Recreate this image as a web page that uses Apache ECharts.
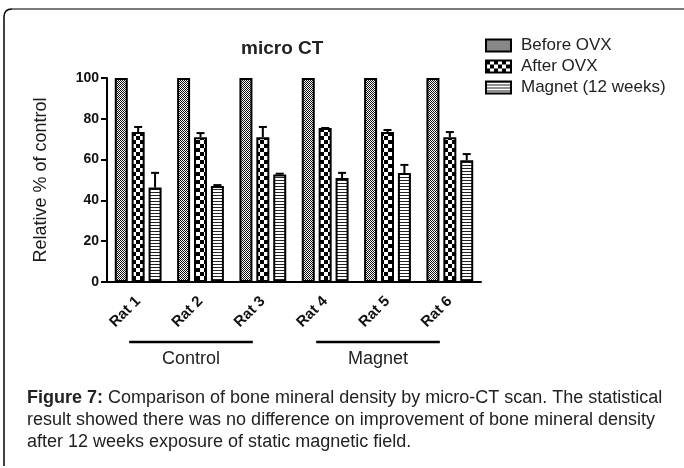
<!DOCTYPE html>
<html>
<head>
<meta charset="utf-8">
<script src="https://cdn.jsdelivr.net/npm/echarts@6/dist/echarts.min.js"></script>
<style>
  html, body { margin: 0; padding: 0; background: #fff; }
  #chart { width: 684px; height: 468px; }
</style>
</head>
<body>
<div id="chart"></div>
<script>
// data
var rats = ['Rat 1', 'Rat 2', 'Rat 3', 'Rat 4', 'Rat 5', 'Rat 6'];
var seriesNames = ['Before OVX', 'After OVX', 'Magnet (12 weeks)'];
var beforeOvx = [100, 100, 100, 100, 100, 100];
var afterOvx = [73.5, 71, 71, 75.5, 73.5, 71];
var afterOvxErr = [2.5, 2, 5, 0, 1, 2.5];
var magnet = [46.3, 47, 52.7, 51, 53.4, 59.7];
var magnetErr = [7.2, 0.5, 0.4, 2.5, 4, 3];
var yTicks = [0, 20, 40, 60, 80, 100];
var groupNames = ['Control', 'Magnet'];
var groupSpans = [[0, 2], [3, 5]];
var captionLines = [
  'Comparison of bone mineral density by micro-CT scan. The statistical',
  'result showed there was no difference on improvement of bone mineral density',
  'after 12 weeks exposure of static magnetic field.'
];

(function() {
  var chartDom = document.getElementById('chart');
  var myChart = echarts.init(chartDom);
  var option;
  var font = 'Liberation Sans, Arial, sans-serif';
  var barW = 13;
  var barGap = 0.3;

  // 填充图案
  function makePattern(w, h, draw) {
    var c = document.createElement('canvas');
    c.width = w;
    c.height = h;
    var ctx = c.getContext('2d');
    ctx.fillStyle = '#fff';
    ctx.fillRect(0, 0, w, h);
    draw(ctx);
    return { image: c, repeat: 'repeat' };
  }
  var finePattern = makePattern(2, 2, function(ctx) {
    ctx.fillStyle = '#111';
    ctx.fillRect(0, 0, 1, 1);
    ctx.fillRect(1, 1, 1, 1);
  });
  var checkPattern = makePattern(8, 8, function(ctx) {
    ctx.fillStyle = '#000';
    ctx.fillRect(0, 0, 4, 4);
    ctx.fillRect(4, 4, 4, 4);
  });
  var stripePattern = makePattern(1, 3, function(ctx) {
    ctx.fillStyle = '#222';
    ctx.fillRect(0, 0, 1, 1);
  });

  function errSeries(values, errs, k) {
    var off = (k - 1) * barW * (1 + barGap);
    return {
      type: 'custom',
      silent: true,
      z: 5,
      encode: { x: 0, y: 1 },
      data: values.map(function(v, i) { return [i, v, errs[i]]; }),
      renderItem: function(params, api) {
        var base = api.coord([api.value(0), api.value(1)]);
        var top = api.coord([api.value(0), api.value(1) + api.value(2)]);
        var x = base[0] + off;
        return {
          type: 'group',
          children: [
            { type: 'line', shape: { x1: x, y1: base[1], x2: x, y2: top[1] }, style: { stroke: '#000', lineWidth: 2 } },
            { type: 'line', shape: { x1: x - 4, y1: top[1], x2: x + 4, y2: top[1] }, style: { stroke: '#000', lineWidth: 2 } }
          ]
        };
      }
    };
  }

  function barSeries(name, data, pattern) {
    return {
      name: name,
      type: 'bar',
      barWidth: barW,
      barGap: (barGap * 100) + '%',
      data: data,
      itemStyle: { color: pattern, borderColor: '#000', borderWidth: 2 }
    };
  }

  option = {
    animation: false,
    title: {
      text: 'micro CT',
      left: 236,
      top: 34,
      textStyle: { fontFamily: font, fontSize: 19, fontWeight: 'bold', color: '#222' }
    },
    legend: {
      data: seriesNames,
      orient: 'vertical',
      left: 485,
      top: 37,
      padding: 0,
      itemWidth: 25,
      itemHeight: 12,
      itemGap: 4,
      icon: 'rect',
      textStyle: { fontFamily: font, fontSize: 17, color: '#222', padding: [0, 0, 0, 5] }
    },
    grid: { left: 107, top: 78, width: 374, height: 204 },
    xAxis: {
      type: 'category',
      data: rats,
      axisLine: { lineStyle: { color: '#000', width: 2 } },
      axisTick: { alignWithLabel: true, length: 5, lineStyle: { color: '#000', width: 2 } },
      axisLabel: { rotate: 45, margin: 17, fontFamily: font, fontSize: 15, fontWeight: 'bold', color: '#111' }
    },
    yAxis: {
      type: 'value',
      min: 0,
      max: 100,
      interval: 20,
      name: 'Relative % of control',
      nameLocation: 'middle',
      nameGap: 57,
      nameTextStyle: { fontFamily: font, fontSize: 18, color: '#1a1a1a' },
      splitLine: { show: false },
      axisLine: { show: true, lineStyle: { color: '#000', width: 2 } },
      axisTick: { show: true, length: 6, lineStyle: { color: '#000', width: 2 } },
      axisLabel: { margin: 8, fontFamily: font, fontSize: 14, fontWeight: 'bold', color: '#111',
        formatter: function(v) { return yTicks.indexOf(v) >= 0 ? String(v) : ''; } }
    },
    series: [
      barSeries(seriesNames[0], beforeOvx, finePattern),
      barSeries(seriesNames[1], afterOvx, checkPattern),
      barSeries(seriesNames[2], magnet, stripePattern),
      errSeries(afterOvx, afterOvxErr, 1),
      errSeries(magnet, magnetErr, 2)
    ]
  };

  option && myChart.setOption(option);

  // 分组标注线 + 边框 + 图注
  var graphics = [
    { type: 'line', shape: { x1: 12, y1: 9, x2: 684, y2: 9 }, style: { stroke: '#7a7a7a', lineWidth: 2 } },
    { type: 'line', shape: { x1: 4, y1: 466, x2: 4, y2: 17 }, style: { stroke: '#000', lineWidth: 1.5 } },
    { type: 'bezierCurve', shape: { x1: 4, y1: 17, cpx1: 4, cpy1: 9, x2: 12, y2: 9 }, style: { fill: null, stroke: '#000', lineWidth: 1.5 } }
  ];
  groupSpans.forEach(function(span, g) {
    var x1 = myChart.convertToPixel({ xAxisIndex: 0 }, rats[span[0]]) - 9;
    var x2 = myChart.convertToPixel({ xAxisIndex: 0 }, rats[span[1]]) - 10;
    graphics.push({ type: 'line', shape: { x1: x1, y1: 342, x2: x2, y2: 342 }, style: { stroke: '#000', lineWidth: 2.5 } });
    graphics.push({ type: 'text', x: (x1 + x2) / 2, y: 350,
      style: { text: groupNames[g], font: '18px ' + font, fill: '#222', align: 'center', verticalAlign: 'top' } });
  });
  captionLines.forEach(function(line, i) {
    graphics.push({ type: 'text', x: 27, y: 389 + i * 22,
      style: {
        text: (i === 0 ? '{b|Figure 7:} ' : '') + line,
        font: '18px ' + font,
        fill: '#222',
        rich: { b: { fontWeight: 'bold', fontSize: 18, fontFamily: font, fill: '#222' } }
      } });
  });
  myChart.setOption({ graphic: graphics });

  window.addEventListener('resize', function() {
    myChart.resize();
  });
})();
</script>
</body>
</html>
